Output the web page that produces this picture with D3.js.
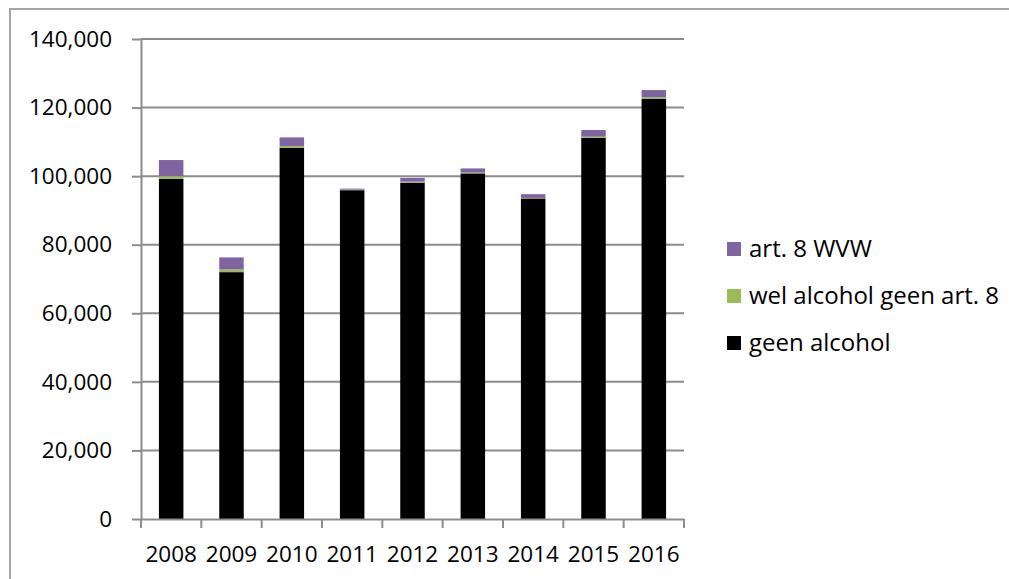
<!DOCTYPE html>
<html>
<head>
<meta charset="utf-8">
<script src="https://cdn.jsdelivr.net/npm/d3@7"></script>
<style>
  body { margin: 0; background: #fff; }
  svg text { font-family: "Open Sans", sans-serif; fill: #000; }
  .axis path, .axis line { stroke: #8c8c8c; stroke-width: 2px; }
  .grid line { stroke: #8c8c8c; stroke-width: 2px; }
</style>
</head>
<body>
<div id="chart"></div>
<script>
const years = ["2008", "2009", "2010", "2011", "2012", "2013", "2014", "2015", "2016"];
const geenAlcohol = [99200, 72000, 108300, 95900, 98100, 100800, 93500, 111200, 122500];
const welAlcohol = [800, 800, 500, 150, 300, 250, 150, 300, 500];
const art8 = [4700, 3500, 2500, 300, 1100, 1200, 1100, 1950, 2100];
const yTicks = [0, 20000, 40000, 60000, 80000, 100000, 120000, 140000];

const seriesNames = ["geen alcohol", "wel alcohol geen art. 8", "art. 8 WVW"];
const colors = ["#000000", "#9bbb59", "#8064a2"];

const W = 1009, H = 579;
const margin = { top: 39, right: 325, bottom: 60, left: 141 };
const width = W - margin.left - margin.right;
const height = H - margin.top - margin.bottom;

const rows = years.map((y, i) => ({
  year: y,
  "geen alcohol": geenAlcohol[i],
  "wel alcohol geen art. 8": welAlcohol[i],
  "art. 8 WVW": art8[i]
}));
const stacked = d3.stack().keys(seriesNames)(rows);

const svg = d3.select("#chart").append("svg")
  .attr("width", W)
  .attr("height", H);

// outer frame (only top and left edges are visible)
svg.append("path")
  .attr("d", `M10,${H + 5}V9H${W + 5}`)
  .attr("fill", "none")
  .attr("stroke", "#a6a6a6")
  .attr("stroke-width", 2);

const g = svg.append("g")
  .attr("transform", "translate(" + margin.left + "," + margin.top + ")");

const x = d3.scaleBand().domain(years).range([0, width])
  .paddingInner(0.594).paddingOuter(0.297);
const y = d3.scaleLinear().domain([0, 140000]).range([height, 0]);

// gridlines
g.append("g")
  .attr("class", "grid")
  .selectAll("line")
  .data(yTicks.filter(d => d > 0))
  .enter().append("line")
  .attr("x1", 0)
  .attr("x2", width)
  .attr("y1", d => y(d))
  .attr("y2", d => y(d));

// bars
g.selectAll(".series")
  .data(stacked)
  .enter().append("g")
  .attr("class", "series")
  .attr("fill", (d, i) => colors[i])
  .selectAll("rect")
  .data(d => d)
  .enter().append("rect")
  .attr("x", d => x(d.data.year))
  .attr("y", d => y(d[1]))
  .attr("width", x.bandwidth())
  .attr("height", d => y(d[0]) - y(d[1]));

// y axis
const yAxis = g.append("g")
  .attr("class", "y axis")
  .call(d3.axisLeft(y).tickValues(yTicks).tickFormat(d3.format(",")).tickSize(9).tickSizeOuter(0));
yAxis.selectAll("text")
  .attr("x", -29)
  .style("font-size", "22.5px");

// x axis with ticks on category boundaries
const xAxis = g.append("g")
  .attr("class", "x axis")
  .attr("transform", "translate(0," + height + ")")
  .call(d3.axisBottom(x).tickSize(0).tickSizeOuter(0));
xAxis.selectAll("text")
  .attr("y", 27)
  .attr("dy", "0.71em")
  .style("font-size", "22.5px");
const step = x.step();
xAxis.selectAll(".bound")
  .data(d3.range(years.length + 1))
  .enter().append("line")
  .attr("class", "bound")
  .attr("x1", i => i * step)
  .attr("x2", i => i * step)
  .attr("y1", 0)
  .attr("y2", 9);

// legend
const legendItems = seriesNames.map((n, i) => ({ name: n, color: colors[i] })).reverse();
const legend = svg.append("g")
  .attr("transform", "translate(727,249)")
  .selectAll("g")
  .data(legendItems)
  .enter().append("g")
  .attr("transform", (d, i) => "translate(0," + i * 47 + ")");
legend.append("rect")
  .attr("x", 0)
  .attr("y", -7)
  .attr("width", 14)
  .attr("height", 14)
  .attr("fill", d => d.color);
legend.append("text")
  .attr("x", 22)
  .attr("dy", "0.35em")
  .style("font-size", "24px")
  .text(d => d.name);
</script>
</body>
</html>
